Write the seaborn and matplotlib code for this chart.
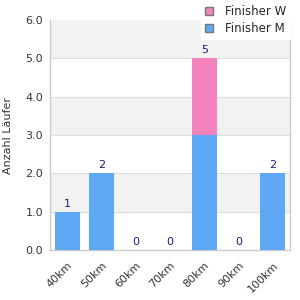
import matplotlib
matplotlib.use("Agg")
import matplotlib.pyplot as plt
import seaborn as sns
import pandas as pd
import numpy as np
from matplotlib.patches import Patch

categories = ["40km", "50km", "60km", "70km", "80km", "90km", "100km"]
finisher_m = [1, 2, 0, 0, 3, 0, 2]
finisher_w = [0, 0, 0, 0, 2, 0, 0]
totals = [m + w for m, w in zip(finisher_m, finisher_w)]

sns.set_theme(style="white")
plt.rcParams['font.family'] = ['DejaVu Sans']

blue = "#5fa8f5"
pink = "#f383bd"

fig = plt.figure(figsize=(3, 3), dpi=100)
ax = fig.add_axes([50/300, 50/300, 240/300, 230/300])

df = pd.DataFrame({"cat": categories, "M": finisher_m, "T": totals})

# alternating bands
for i in range(6):
    if i % 2 == 1:
        ax.axhspan(i, i + 1, color="#f2f2f2", zorder=0, lw=0)
for y in range(1, 6):
    ax.axhline(y, color="#dddddd", lw=0.8, zorder=0.5)

sns.barplot(data=df, x="cat", y="T", color=pink, width=0.73, saturation=1, ax=ax, zorder=2, linewidth=0)
sns.barplot(data=df, x="cat", y="M", color=blue, width=0.73, saturation=1, ax=ax, zorder=3, linewidth=0)

for i, t in enumerate(totals):
    ax.text(i, t + 0.08, str(t), ha="center", va="bottom", fontsize=8, color="#1a1a80", zorder=4)

ax.set_ylim(0, 6)
ax.set_xlim(-0.5, 6.5)
ax.set_yticks(range(7))
ax.set_yticklabels([f"{v:.1f}" for v in range(7)], fontsize=8, color="#333333")
ax.set_xticks(range(len(categories)))
ax.set_xticklabels(categories, rotation=45, ha="right", rotation_mode="anchor", fontsize=8, color="#333333")
ax.set_xlabel("")
ax.set_ylabel("Anzahl Läufer", fontsize=8, color="#333333", labelpad=9)
ax.tick_params(axis="y", length=0, pad=5)
ax.tick_params(axis="x", length=0, pad=7)
for s in ax.spines.values():
    s.set_color("#cccccc")
    s.set_linewidth(1)
ax.spines["top"].set_visible(False)

handles = [Patch(facecolor=pink, edgecolor="#777777", label="Finisher W"),
           Patch(facecolor=blue, edgecolor="#777777", label="Finisher M")]
leg = fig.legend(handles=handles, loc="upper right", bbox_to_anchor=(0.985, 1.015), fontsize=8.5,
                 frameon=True, fancybox=False, framealpha=1, edgecolor="white",
                 handlelength=0.7, handleheight=0.7, borderpad=0.3, labelspacing=0.35, handletextpad=1.0)
leg.set_zorder(10)

fig.savefig("out.png", dpi=100)
